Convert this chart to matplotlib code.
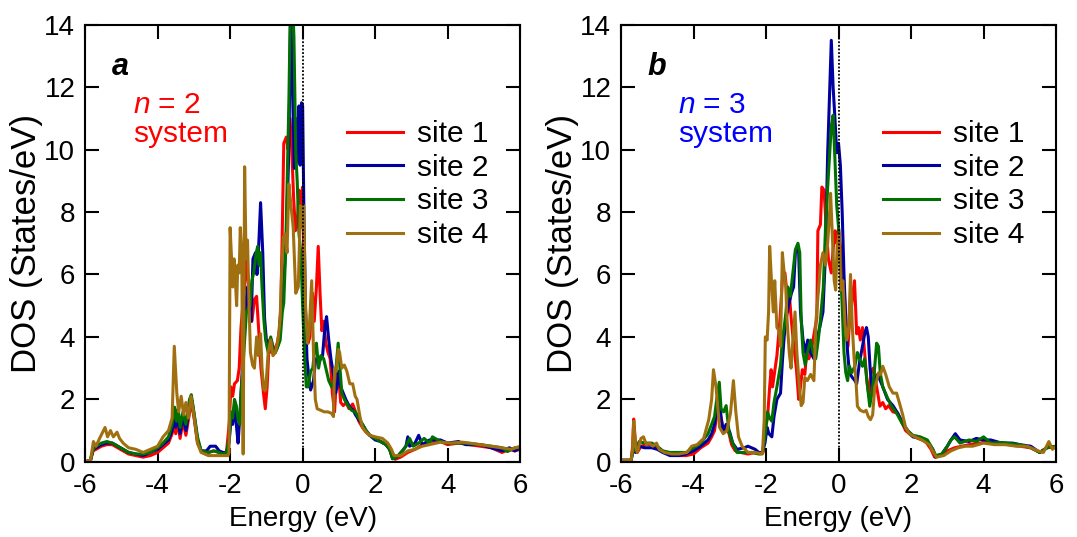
import matplotlib
matplotlib.use("Agg")
import matplotlib.pyplot as plt

plt.rcParams['font.family'] = ['Liberation Sans', 'DejaVu Sans']
plt.rcParams['mathtext.fontset'] = 'custom'
plt.rcParams['mathtext.it'] = 'Liberation Sans:italic'
plt.rcParams['mathtext.rm'] = 'Liberation Sans'
plt.rcParams['axes.unicode_minus'] = False

site_labels = ["site 1", "site 2", "site 3", "site 4"]
site_colors = ["#ff0000", "#0000a0", "#007000", "#a07010"]

# ---- n = 2 system (panel a) ----
a1_e = [-6.0, -5.85, -5.78, -5.7, -5.55, -5.4, -5.25, -5.1, -4.95, -4.8, -4.6, -4.4, -4.2, -4.0, -3.85, -3.7,
        -3.6, -3.55, -3.5, -3.45, -3.38, -3.3, -3.22, -3.1, -3.05, -2.98, -2.9, -2.8, -2.6, -2.45, -2.3, -2.2,
        -2.1, -2.02, -1.98, -1.93, -1.88, -1.8, -1.75, -1.7, -1.65, -1.6, -1.55, -1.5, -1.45, -1.4, -1.33, -1.27,
        -1.2, -1.15, -1.08, -1.03, -0.98, -0.92, -0.86, -0.78, -0.7, -0.64, -0.6, -0.56, -0.52, -0.45, -0.4, -0.35,
        -0.3, -0.25, -0.2, -0.15, -0.1, -0.05, 0.0, 0.04, 0.1, 0.15, 0.2, 0.27, 0.32, 0.38, 0.43, 0.48, 0.53, 0.58,
        0.64, 0.7, 0.76, 0.82, 0.88, 0.93, 0.98, 1.05, 1.12, 1.2, 1.28, 1.38, 1.46, 1.55, 1.65, 1.75, 1.85, 2.0,
        2.15, 2.3, 2.4, 2.48, 2.55, 2.7, 2.9, 3.1, 3.3, 3.5, 3.8, 4.0, 4.3, 4.6, 4.9, 5.2, 5.5, 5.7, 5.85, 6.0]
a1_dos = [0.0, 0.05, 0.35, 0.4, 0.5, 0.55, 0.55, 0.45, 0.35, 0.25, 0.2, 0.15, 0.2, 0.3, 0.45, 0.6,
          0.9, 1.2, 0.9, 1.3, 0.75, 1.3, 0.85, 1.7, 1.8, 1.3, 0.6, 0.35, 0.3, 0.35, 0.3, 0.25,
          0.3, 1.3, 2.4, 2.1, 2.5, 2.6, 3.0, 4.3, 5.0, 5.6, 6.5, 5.8, 5.0, 4.5, 5.2, 5.3,
          4.0, 3.0, 2.2, 1.7, 2.4, 3.9, 3.5, 3.6, 3.8, 4.2, 5.0, 7.5, 10.2, 10.4, 10.0, 11.0,
          10.0, 8.5, 7.4, 7.6, 8.7, 8.2, 8.8, 6.0, 4.2, 3.8, 4.0, 5.4, 4.5, 5.6, 6.9, 5.4, 4.2, 4.5,
          3.8, 3.5, 3.3, 2.2, 1.6, 2.6, 2.9, 1.9, 1.8, 1.9, 1.7, 1.85, 1.6, 1.3, 1.1, 0.95, 0.85, 0.75,
          0.65, 0.55, 0.4, 0.15, 0.08, 0.15, 0.3, 0.4, 0.55, 0.6, 0.65, 0.55, 0.6, 0.55, 0.5, 0.45, 0.3, 0.4, 0.35, 0.4]

a2_e = [-6.0, -5.85, -5.78, -5.7, -5.55, -5.4, -5.25, -5.1, -4.95, -4.8, -4.6, -4.4, -4.2, -4.0, -3.85, -3.7,
        -3.6, -3.55, -3.5, -3.45, -3.38, -3.3, -3.22, -3.1, -3.05, -2.98, -2.9, -2.8, -2.65, -2.55, -2.4, -2.3,
        -2.2, -2.1, -2.03, -1.98, -1.93, -1.88, -1.83, -1.78, -1.73, -1.68, -1.6, -1.52, -1.47, -1.42, -1.37, -1.3,
        -1.26, -1.22, -1.16, -1.1, -1.05, -1.0, -0.93, -0.86, -0.8, -0.72, -0.65, -0.6, -0.55, -0.5, -0.45, -0.38,
        -0.33, -0.28, -0.23, -0.19, -0.15, -0.1, -0.07, -0.03, 0.0, 0.04, 0.08, 0.12, 0.18, 0.22, 0.3, 0.36, 0.45,
        0.55, 0.62, 0.66, 0.72, 0.78, 0.85, 0.91, 0.96, 1.0, 1.05, 1.12, 1.19, 1.3, 1.4, 1.46, 1.55, 1.65, 1.75,
        1.85, 2.0, 2.15, 2.3, 2.4, 2.48, 2.6, 2.75, 2.85, 2.9, 2.95, 3.1, 3.2, 3.3, 3.5, 3.8, 4.0, 4.3, 4.5, 4.9,
        5.2, 5.5, 5.7, 5.85, 6.0]
a2_dos = [0.0, 0.05, 0.4, 0.45, 0.55, 0.6, 0.6, 0.5, 0.4, 0.3, 0.25, 0.2, 0.3, 0.4, 0.55, 0.7,
          1.0, 1.5, 1.1, 1.5, 0.9, 1.5, 1.0, 1.9, 1.95, 1.4, 0.7, 0.35, 0.35, 0.5, 0.5, 0.35,
          0.3, 0.3, 0.6, 1.3, 1.2, 1.8, 1.2, 0.6, 1.5, 2.6, 4.6, 5.6, 4.8, 4.5, 6.5, 6.7,
          6.0, 6.7, 8.3, 6.7, 4.6, 3.9, 3.7, 3.9, 3.5, 3.6, 3.9, 4.9, 5.3, 6.2, 7.2, 10.0,
          14.5, 12.0, 9.4, 11.0, 9.6, 11.4, 9.5, 11.5, 11.4, 7.5, 4.8, 3.3, 2.6, 2.3, 2.6, 3.3, 3.2,
          3.4, 4.4, 4.65, 3.9, 3.3, 2.8, 2.2, 2.5, 2.9, 2.4, 2.2, 2.0, 1.75, 1.65, 1.5, 1.35, 1.2, 1.0,
          0.85, 0.7, 0.65, 0.55, 0.4, 0.1, 0.15, 0.35, 0.5, 0.8, 0.5, 0.6, 0.85, 0.55, 0.7, 0.7, 0.6, 0.65, 0.55, 0.55,
          0.45, 0.35, 0.45, 0.35, 0.45]

a3_e = [-6.0, -5.85, -5.78, -5.7, -5.55, -5.4, -5.25, -5.1, -4.95, -4.8, -4.6, -4.4, -4.2, -4.0, -3.85, -3.7,
        -3.6, -3.53, -3.48, -3.43, -3.38, -3.3, -3.22, -3.12, -3.07, -3.0, -2.9, -2.8, -2.6, -2.45, -2.3, -2.2,
        -2.1, -2.02, -1.98, -1.93, -1.88, -1.83, -1.78, -1.73, -1.7, -1.65, -1.6, -1.55, -1.5, -1.45, -1.4, -1.35,
        -1.28, -1.24, -1.2, -1.16, -1.12, -1.07, -1.02, -0.95, -0.88, -0.82, -0.75, -0.68, -0.62, -0.56, -0.52,
        -0.47, -0.43, -0.38, -0.34, -0.27, -0.24, -0.19, -0.15, -0.1, -0.05, 0.0, 0.05, 0.1, 0.15, 0.22, 0.28,
        0.34, 0.38, 0.44, 0.5, 0.58, 0.64, 0.72, 0.8, 0.86, 0.92, 0.98, 1.03, 1.08, 1.15, 1.25, 1.35, 1.45, 1.55,
        1.65, 1.75, 1.85, 2.0, 2.15, 2.3, 2.4, 2.48, 2.6, 2.75, 2.85, 2.95, 3.05, 3.2, 3.35, 3.5, 3.58, 3.8, 4.0,
        4.3, 4.5, 4.9, 5.2, 5.5, 5.65, 5.85, 6.0]
a3_dos = [0.0, 0.05, 0.4, 0.5, 0.6, 0.65, 0.6, 0.5, 0.4, 0.3, 0.25, 0.25, 0.3, 0.45, 0.6, 0.8,
          1.2, 1.75, 1.3, 1.7, 1.1, 1.6, 1.2, 2.0, 2.15, 1.6, 0.8, 0.35, 0.3, 0.35, 0.3, 0.25,
          0.3, 0.8, 1.6, 1.4, 2.0, 1.8, 1.35, 1.2, 2.2, 2.95, 3.9, 4.8, 4.9, 5.0, 5.8, 6.05,
          6.7, 6.9, 6.3, 6.7, 5.6, 4.56, 3.9, 3.5, 4.0, 3.6, 3.5, 3.7, 3.9, 4.8, 5.1,
          6.7, 8.8, 11.5, 14.5, 14.5, 13.6, 9.9, 9.0, 7.3, 6.7, 5.0, 3.5, 2.4, 2.4, 2.9, 3.0,
          3.7, 3.8, 3.0, 3.4, 3.3, 3.0, 2.6, 2.4, 2.5, 3.0, 3.8, 3.0, 2.2, 2.0, 1.8, 1.65, 1.6, 1.4,
          1.2, 1.0, 0.85, 0.75, 0.65, 0.55, 0.4, 0.1, 0.15, 0.35, 0.5, 0.75, 0.5, 0.6, 0.75, 0.6, 0.8, 0.65, 0.6,
          0.6, 0.6, 0.55, 0.5, 0.45, 0.33, 0.45, 0.45]

a4_e = [-6.0, -5.85, -5.77, -5.7, -5.6, -5.45, -5.38, -5.3, -5.22, -5.12, -5.05, -4.95, -4.8, -4.6, -4.4, -4.2,
        -4.0, -3.85, -3.7, -3.6, -3.54, -3.47, -3.42, -3.35, -3.28, -3.22, -3.15, -3.08, -3.0, -2.9, -2.8, -2.6,
        -2.4, -2.2, -2.06, -2.03, -2.0, -1.96, -1.93, -1.89, -1.86, -1.82, -1.79, -1.75, -1.72, -1.68, -1.64, -1.6,
        -1.56, -1.52, -1.48, -1.44, -1.38, -1.33, -1.27, -1.22, -1.16, -1.12, -1.07, -1.02, -0.95, -0.88, -0.82,
        -0.75, -0.68, -0.62, -0.58, -0.53, -0.48, -0.43, -0.38, -0.32, -0.26, -0.19, -0.12, -0.06, -0.02, 0.03,
        0.08, 0.13, 0.18, 0.25, 0.3, 0.35, 0.4, 0.5, 0.6, 0.7, 0.8, 0.85, 0.88, 0.93, 0.98, 1.02, 1.08, 1.15,
        1.22, 1.3, 1.38, 1.45, 1.5, 1.58, 1.65, 1.75, 1.85, 2.0, 2.2, 2.35, 2.45, 2.52, 2.7, 2.9, 3.1, 3.3,
        3.5, 3.8, 4.1, 4.4, 4.6, 4.9, 5.2, 5.5, 5.75, 6.0]
a4_dos = [0.0, 0.05, 0.65, 0.5, 0.75, 1.1, 0.8, 1.0, 0.8, 0.95, 0.75, 0.6, 0.45, 0.4, 0.3, 0.4,
          0.5, 0.8, 1.0, 1.4, 3.7, 2.2, 1.6, 2.1, 1.5, 1.9, 1.4, 2.1, 1.5, 0.6, 0.3, 0.2,
          0.2, 0.2, 0.2, 0.3, 7.5, 6.5, 5.6, 6.5, 5.9, 5.0, 6.3, 6.05, 7.5, 6.7, 0.25, 9.45,
          6.5, 7.1, 5.1, 3.5, 3.1, 3.0, 4.0, 3.4, 4.1, 3.0, 2.3, 2.3, 3.5, 3.9, 3.4,
          3.5, 3.9, 4.6, 6.05, 7.2, 7.3, 6.7, 8.9, 8.2, 7.5, 5.4, 5.6, 8.2, 7.5, 8.2,
          5.0, 3.8, 4.2, 5.8, 3.5, 2.0, 1.7, 1.65, 1.6, 1.6, 1.55, 1.45, 3.0, 2.9, 3.6, 3.5, 3.0, 3.1,
          2.9, 2.5, 2.5, 2.1, 2.0, 1.45, 1.1, 0.95, 0.85, 0.8, 0.75, 0.6, 0.4, 0.2, 0.2, 0.35, 0.4, 0.5,
          0.55, 0.63, 0.6, 0.63, 0.6, 0.55, 0.5, 0.45, 0.4, 0.5]

# ---- n = 3 system (panel b) ----
b1_e = [-6.0, -5.72, -5.68, -5.65, -5.6, -5.55, -5.45, -5.3, -5.15, -5.0, -4.85, -4.65, -4.4, -4.2, -4.0, -3.8,
        -3.6, -3.5, -3.42, -3.36, -3.3, -3.25, -3.18, -3.1, -3.02, -2.95, -2.85, -2.7, -2.5, -2.3, -2.15, -2.08,
        -2.03, -1.96, -1.9, -1.86, -1.82, -1.76, -1.7, -1.62, -1.55, -1.48, -1.44, -1.4, -1.36, -1.3, -1.25, -1.16,
        -1.1, -1.05, -1.0, -0.93, -0.88, -0.82, -0.76, -0.66, -0.6, -0.57, -0.5, -0.46, -0.4, -0.34, -0.28,
        -0.2, -0.15, -0.1, -0.05, 0.0, 0.04, 0.08, 0.14, 0.2, 0.26, 0.31, 0.36, 0.44, 0.5, 0.55, 0.6, 0.66,
        0.72, 0.78, 0.84, 0.9, 0.96, 1.02, 1.08, 1.14, 1.22, 1.3, 1.38, 1.5, 1.63, 1.75, 1.85, 2.0, 2.2, 2.4,
        2.55, 2.65, 2.8, 3.0, 3.2, 3.4, 3.6, 3.9, 4.1, 4.4, 4.7, 5.0, 5.3, 5.55, 5.8, 6.0]
b1_dos = [0.05, 0.05, 0.5, 1.37, 0.6, 0.3, 0.5, 0.55, 0.55, 0.45, 0.35, 0.25, 0.2, 0.2, 0.25, 0.45,
          0.6, 0.8, 1.0, 1.5, 2.0, 1.5, 1.0, 1.1, 0.9, 0.55, 0.35, 0.3, 0.25, 0.3, 0.25, 0.3,
          1.0, 1.4, 2.4, 2.95, 2.4, 2.9, 3.4, 4.5, 5.8, 6.05, 5.6, 4.8, 5.4, 4.5, 3.9, 2.95,
          2.0, 2.4, 2.95, 2.8, 3.5, 3.3, 3.5, 4.2, 4.6, 7.4, 7.6, 8.8, 8.7, 7.5, 6.5,
          6.05, 6.8, 7.4, 7.0, 7.5, 7.0, 6.7, 5.8, 4.6, 3.7, 4.6, 5.0, 5.8, 4.1, 4.3, 3.9, 4.3,
          3.5, 2.6, 2.1, 2.9, 3.0, 2.6, 2.2, 1.78, 1.9, 1.7, 1.8, 1.6, 1.56, 1.25, 1.0, 0.85, 0.75, 0.65,
          0.4, 0.15, 0.2, 0.35, 0.45, 0.5, 0.55, 0.6, 0.65, 0.6, 0.55, 0.5, 0.45, 0.3, 0.5, 0.45]

b2_e = [-6.0, -5.72, -5.66, -5.6, -5.5, -5.35, -5.15, -5.0, -4.85, -4.65, -4.4, -4.2, -4.0, -3.8, -3.6, -3.5,
        -3.42, -3.36, -3.3, -3.24, -3.18, -3.1, -3.0, -2.92, -2.8, -2.6, -2.5, -2.4, -2.3, -2.2, -2.1, -2.03,
        -1.97, -1.92, -1.84, -1.78, -1.7, -1.6, -1.55, -1.5, -1.45, -1.38, -1.3, -1.24, -1.19, -1.14, -1.1, -1.05,
        -0.98, -0.91, -0.85, -0.77, -0.68, -0.6, -0.52, -0.43, -0.36, -0.3, -0.2, -0.15, -0.1, -0.05, 0.0, 0.05,
        0.1, 0.15, 0.2, 0.25, 0.3, 0.38, 0.45, 0.5, 0.58, 0.66, 0.72, 0.77, 0.82, 0.87, 0.94, 1.0, 1.08, 1.15,
        1.22, 1.35, 1.5, 1.63, 1.77, 1.91, 2.05, 2.25, 2.45, 2.6, 2.68, 2.85, 3.0, 3.1, 3.22, 3.35, 3.6, 3.8,
        4.0, 4.2, 4.5, 4.8, 5.0, 5.3, 5.55, 5.75, 6.0]
b2_dos = [0.05, 0.05, 0.4, 0.3, 0.5, 0.45, 0.45, 0.4, 0.3, 0.2, 0.2, 0.25, 0.35, 0.5, 0.7, 0.9,
          1.2, 1.7, 2.2, 1.4, 1.0, 1.2, 0.95, 0.6, 0.4, 0.45, 0.5, 0.45, 0.4, 0.3, 0.3, 0.6,
          1.1, 0.9, 0.8, 1.45, 2.0, 2.2, 3.2, 4.0, 4.55, 5.0, 5.4, 5.6, 6.7, 6.9, 6.7, 4.8,
          3.9, 3.5, 3.9, 3.5, 3.3, 3.9, 4.3, 4.8, 6.7, 9.9, 13.5, 12.0, 11.0, 9.9, 10.2, 9.5,
          8.0, 6.0, 4.5, 3.5, 2.85, 2.7, 2.6, 2.5, 3.2, 3.7, 4.1, 4.3, 4.0, 3.0, 2.2, 2.6, 2.8, 2.6,
          2.4, 2.0, 1.8, 1.56, 1.24, 1.0, 0.8, 0.75, 0.65, 0.4, 0.15, 0.25, 0.5, 0.7, 0.9, 0.7, 0.65, 0.75,
          0.7, 0.7, 0.6, 0.6, 0.55, 0.5, 0.3, 0.45, 0.5]

b3_e = [-6.0, -5.72, -5.66, -5.6, -5.5, -5.35, -5.15, -5.0, -4.85, -4.65, -4.4, -4.2, -4.0, -3.8, -3.6, -3.5,
        -3.42, -3.36, -3.29, -3.24, -3.17, -3.1, -3.02, -2.92, -2.8, -2.6, -2.4, -2.2, -2.1, -2.03, -1.96, -1.9,
        -1.84, -1.78, -1.7, -1.6, -1.55, -1.5, -1.45, -1.4, -1.33, -1.26, -1.19, -1.12, -1.07, -1.03, -0.98,
        -0.92, -0.86, -0.77, -0.7, -0.63, -0.56, -0.5, -0.42, -0.36, -0.3, -0.2, -0.15, -0.1, -0.05, 0.0, 0.04,
        0.1, 0.15, 0.2, 0.25, 0.3, 0.36, 0.45, 0.52, 0.58, 0.66, 0.72, 0.8, 0.86, 0.92, 0.98, 1.05, 1.1, 1.15,
        1.22, 1.33, 1.45, 1.6, 1.75, 1.9, 2.05, 2.25, 2.45, 2.6, 2.68, 2.85, 3.0, 3.1, 3.2, 3.35, 3.6, 3.8,
        4.0, 4.2, 4.5, 4.8, 5.0, 5.3, 5.55, 5.75, 6.0]
b3_dos = [0.05, 0.05, 0.45, 0.35, 0.65, 0.6, 0.6, 0.5, 0.35, 0.3, 0.3, 0.3, 0.45, 0.6, 0.9, 1.2,
          1.45, 2.0, 2.55, 1.7, 1.6, 1.8, 0.95, 0.6, 0.3, 0.3, 0.3, 0.25, 0.3, 0.8, 1.6, 1.4,
          1.3, 1.9, 2.4, 3.1, 3.9, 4.3, 4.8, 5.6, 5.3, 6.05, 6.8, 7.0, 6.7, 4.55, 3.5,
          3.1, 3.5, 3.9, 3.5, 3.3, 3.9, 4.55, 5.6, 7.5, 8.8, 10.75, 11.1, 9.7, 8.2, 7.5, 6.5,
          5.0, 3.5, 2.85, 2.6, 3.06, 2.85, 3.06, 3.5, 3.3, 3.06, 3.3, 2.4, 1.78, 2.2, 2.8, 3.8, 3.7, 2.85,
          2.4, 2.1, 1.8, 1.56, 1.24, 1.0, 0.85, 0.8, 0.7, 0.4, 0.2, 0.25, 0.5, 0.7, 0.8, 0.6, 0.7, 0.65,
          0.8, 0.6, 0.62, 0.58, 0.55, 0.45, 0.3, 0.45, 0.5]

b4_e = [-6.0, -5.72, -5.68, -5.65, -5.6, -5.55, -5.45, -5.38, -5.3, -5.22, -5.12, -5.02, -4.95, -4.8, -4.6,
        -4.4, -4.18, -4.05, -3.9, -3.72, -3.58, -3.5, -3.45, -3.38, -3.28, -3.18, -3.08, -2.98, -2.9, -2.83,
        -2.76, -2.66, -2.5, -2.3, -2.1, -2.05, -2.02, -1.97, -1.93, -1.9, -1.85, -1.8, -1.76, -1.7, -1.64, -1.6,
        -1.55, -1.5, -1.46, -1.42, -1.36, -1.31, -1.26, -1.2, -1.15, -1.08, -1.03, -0.98, -0.93, -0.86, -0.77,
        -0.68, -0.62, -0.56, -0.5, -0.43, -0.36, -0.3, -0.26, -0.22, -0.18, -0.12, -0.08, -0.04, 0.02, 0.06,
        0.12, 0.18, 0.23, 0.28, 0.33, 0.38, 0.43, 0.48, 0.52, 0.6, 0.7, 0.76, 0.82, 0.88, 0.94, 1.0, 1.05, 1.1,
        1.16, 1.22, 1.3, 1.4, 1.5, 1.6, 1.7, 1.77, 1.85, 1.95, 2.1, 2.3, 2.5, 2.62, 2.7, 2.9, 3.1, 3.3, 3.5,
        3.7, 4.0, 4.3, 4.6, 4.9, 5.2, 5.5, 5.65, 5.8, 5.9, 6.0]
b4_dos = [0.05, 0.05, 0.4, 1.3, 0.5, 0.3, 0.75, 0.8, 0.55, 0.6, 0.5, 0.6, 0.4, 0.3, 0.25,
          0.25, 0.3, 0.5, 0.55, 0.75, 1.35, 2.0, 2.95, 2.4, 1.1, 0.9, 1.0, 1.56, 2.6, 1.56,
          0.8, 0.5, 0.3, 0.3, 0.25, 1.35, 4.0, 3.9, 4.8, 6.9, 5.8, 4.8, 5.8, 4.3, 4.2, 3.7,
          6.7, 6.05, 5.7, 4.55, 3.5, 3.0, 3.9, 4.8, 3.5, 2.4, 1.8, 1.9, 2.7, 2.6, 2.8,
          2.6, 4.55, 5.4, 6.3, 6.7, 6.3, 7.0, 7.7, 8.6, 7.5, 5.8, 5.5, 6.9, 7.3, 5.5,
          5.8, 4.4, 3.9, 4.3, 6.0, 4.3, 3.3, 2.6, 1.78, 1.65, 1.6, 1.65, 1.45, 1.35, 1.5, 2.4, 2.6, 2.85,
          2.8, 3.06, 2.8, 2.4, 2.2, 2.2, 1.8, 1.5, 1.1, 0.9, 0.8, 0.7, 0.55, 0.3, 0.15, 0.2, 0.35, 0.45, 0.5,
          0.5, 0.6, 0.55, 0.55, 0.5, 0.5, 0.35, 0.3, 0.65, 0.4, 0.5]

panels = [
    ("a", "2", "#ff0000", 0.110,
     [(a1_e, a1_dos), (a2_e, a2_dos), (a3_e, a3_dos), (a4_e, a4_dos)]),
    ("b", "3", "#0000ff", 0.131,
     [(b1_e, b1_dos), (b2_e, b2_dos), (b3_e, b3_dos), (b4_e, b4_dos)]),
]

fig = plt.figure(figsize=(10.77, 5.37), dpi=100)
lefts = [0.079, 0.5766]

for left, (tag, n, tcolor, tx, curves) in zip(lefts, panels):
    ax = fig.add_axes([left, 0.14, 0.404, 0.814])
    for (e, d), lab, col in zip(curves, site_labels, site_colors):
        ax.plot(e, d, color=col, lw=2.2, label=lab)
    ax.axvline(0, color="black", ls=(0, (1, 1)), lw=1.3, zorder=5)

    ax.set_xlim(-6, 6)
    ax.set_ylim(0, 14)
    ax.set_xticks(range(-6, 7, 2))
    ax.set_yticks(range(0, 15, 2))
    ax.tick_params(direction="in", top=True, right=True, length=10, width=1.5, labelsize=20)
    ax.tick_params(axis="x", pad=8)
    ax.tick_params(axis="y", pad=7)
    for sp in ax.spines.values():
        sp.set_linewidth(1.5)
    ax.set_xlabel("Energy (eV)", fontsize=20, labelpad=5)
    ax.set_ylabel("DOS (States/eV)", fontsize=25, labelpad=1)

    ax.text(0.062, 0.886, tag, transform=ax.transAxes, fontsize=22,
            fontweight="bold", fontstyle="italic", va="baseline")
    ax.text(tx, 0.799, "$\\mathit{n}$ = " + n, transform=ax.transAxes, fontsize=21.5,
            color=tcolor, va="baseline")
    ax.text(tx, 0.732, "system", transform=ax.transAxes, fontsize=21.5,
            color=tcolor, va="baseline")

    ax.legend(loc="upper left", bbox_to_anchor=(0.603, 0.782), frameon=False,
              fontsize=21.5, handlelength=1.87, handletextpad=0.47,
              labelspacing=0.19, borderpad=0, borderaxespad=0)

fig.savefig("out.png", dpi=100)
